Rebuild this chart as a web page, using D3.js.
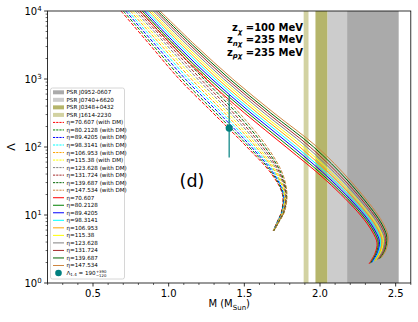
<!DOCTYPE html>
<html><head><meta charset="utf-8">
<script src="https://cdn.jsdelivr.net/npm/d3@7"></script>
<style>body{margin:0;background:#fff}svg{display:block}text{font-family:"DejaVu Sans",sans-serif}</style>
</head><body><svg id="c" width="418" height="322"></svg>
<script>
// ---------------- data ----------------
const etas = ["70.607","80.2128","89.4205","98.3141","106.953","115.38","123.628","131.724","139.687","147.534"];
// Lambda grid (with DM, dashed) and masses for each eta
const lambdaGridDM = [10000, 3162, 1000, 316.2, 100, 39.81, 19.95, 11.22, 7.943, 5.888];
const massDM = [
  [0.685,0.877,1.069,1.293,1.517,1.681,1.752,1.745,1.717,1.691],
  [0.700,0.895,1.089,1.312,1.532,1.689,1.755,1.747,1.718,1.692],
  [0.716,0.913,1.110,1.332,1.547,1.697,1.759,1.750,1.720,1.692],
  [0.731,0.931,1.130,1.351,1.562,1.705,1.762,1.752,1.721,1.693],
  [0.747,0.949,1.150,1.370,1.577,1.713,1.765,1.754,1.723,1.694],
  [0.762,0.968,1.171,1.390,1.591,1.722,1.769,1.757,1.724,1.694],
  [0.778,0.986,1.191,1.409,1.606,1.730,1.772,1.759,1.726,1.695],
  [0.793,1.004,1.211,1.428,1.621,1.738,1.775,1.761,1.727,1.696],
  [0.809,1.022,1.232,1.448,1.636,1.746,1.779,1.764,1.729,1.696],
  [0.824,1.040,1.252,1.467,1.651,1.754,1.782,1.766,1.730,1.697]
];
// Lambda grid (no DM, solid) and masses, plus turning-point tail [M, Lambda]
const lambdaGridNoDM = [10000, 3162, 1000, 316.2, 100, 31.62, 10];
const massNoDM = [
  [0.811,1.020,1.247,1.501,1.776,2.045,2.267],
  [0.826,1.037,1.267,1.523,1.799,2.062,2.280],
  [0.840,1.054,1.286,1.544,1.822,2.080,2.293],
  [0.855,1.072,1.306,1.566,1.844,2.097,2.306],
  [0.870,1.089,1.325,1.588,1.867,2.115,2.319],
  [0.884,1.106,1.345,1.609,1.890,2.132,2.331],
  [0.899,1.123,1.364,1.631,1.913,2.150,2.344],
  [0.914,1.141,1.384,1.653,1.935,2.167,2.357],
  [0.928,1.158,1.403,1.674,1.958,2.185,2.370],
  [0.943,1.175,1.423,1.696,1.981,2.202,2.383]
];
const tailNoDM = [
  [[2.347,5.62],[2.377,3.89],[2.364,2.75],[2.324,1.91]],
  [[2.356,5.73],[2.385,3.98],[2.372,2.79],[2.333,1.95]],
  [[2.365,5.83],[2.393,4.07],[2.380,2.82],[2.342,2.00]],
  [[2.375,5.93],[2.401,4.17],[2.388,2.86],[2.351,2.04]],
  [[2.384,6.04],[2.409,4.27],[2.396,2.90],[2.360,2.09]],
  [[2.393,6.15],[2.418,4.37],[2.405,2.94],[2.368,2.14]],
  [[2.402,6.27],[2.426,4.47],[2.413,2.97],[2.377,2.19]],
  [[2.412,6.37],[2.434,4.57],[2.421,3.01],[2.386,2.24]],
  [[2.421,6.49],[2.442,4.68],[2.429,3.05],[2.395,2.29]],
  [[2.430,6.61],[2.450,4.79],[2.437,3.09],[2.404,2.34]]
];
const bandNames = ["PSR J0952-0607","PSR J0740+6620","PSR J0348+0432","PSR J1614-2230"];
const bandLo = [2.18, 2.05, 1.97, 1.892];
const bandHi = [2.52, 2.24, 2.05, 1.924];
const pointM = 1.4, pointL = 190, pointLo = 70, pointHi = 580;
const xTicks = [0.5,1.0,1.5,2.0,2.5];
const yTicks = [1,10,100,1000,10000];
const yTickExp = ["0","1","2","3","4"];

// ---------------- styles ----------------
const colors = ["#ff0000","#008000","#0000ff","#00ffff","#ffa500","#ffff00","#808080","#a52a2a","#006400","#cd853f"];
const bandColors = ["#aaaaaa","#cccccc","#b5b56b","#d2d2a2"];
const teal = "#008080";

const svg = d3.select("#c");
const x = d3.scaleLinear().domain([0.2,2.6]).range([47.6,410.8]);
const y = d3.scaleLog().domain([1,1e4]).range([283,11]);
const X0=x.range()[0], X1=x.range()[1], Y0=y.range()[1], Y1=y.range()[0];

svg.append("defs").append("clipPath").attr("id","pc").append("rect")
  .attr("x",X0).attr("y",Y0).attr("width",X1-X0).attr("height",Y1-Y0);
const plot = svg.append("g").attr("clip-path","url(#pc)");

// bands (draw J1614, J0348, J0740, J0952 so J0952 is on top)
[3,2,1,0].forEach(i=>{
  plot.append("rect").attr("x",x(bandLo[i])).attr("width",x(bandHi[i])-x(bandLo[i]))
    .attr("y",Y0).attr("height",Y1-Y0).attr("fill",bandColors[i]);
});

const line = d3.line().x(d=>x(d[0])).y(d=>y(d[1])).curve(d3.curveCatmullRom.alpha(0.5));

// with DM (dashed)
massDM.forEach((row,i)=>{
  const pts = row.map((m,j)=>[m, lambdaGridDM[j]]);
  plot.append("path").attr("d",line(pts)).attr("fill","none")
    .attr("stroke",colors[i]).attr("stroke-width",1).attr("stroke-dasharray","3.7,1.6");
});
// without DM (solid)
massNoDM.forEach((row,i)=>{
  const pts = row.map((m,j)=>[m, lambdaGridNoDM[j]]).concat(tailNoDM[i]);
  plot.append("path").attr("d",line(pts)).attr("fill","none")
    .attr("stroke",colors[i]).attr("stroke-width",1);
});

// data point with error bar
plot.append("line").attr("x1",x(pointM)).attr("x2",x(pointM))
  .attr("y1",y(pointLo)).attr("y2",y(pointHi)).attr("stroke",teal).attr("stroke-opacity",0.8).attr("stroke-width",1.5);
plot.append("circle").attr("cx",x(pointM)).attr("cy",y(pointL)).attr("r",3.6).attr("fill",teal);

// frame
svg.append("rect").attr("x",X0).attr("y",Y0).attr("width",X1-X0).attr("height",Y1-Y0)
  .attr("fill","none").attr("stroke","#000").attr("stroke-width",0.8);

// x axis ticks
const xMinor = d3.range(2,27).map(v=>v/10).filter(v=>!xTicks.some(t=>Math.abs(t-v)<1e-9));
const xa = svg.append("g");
xMinor.forEach(v=>xa.append("line").attr("x1",x(v)).attr("x2",x(v)).attr("y1",Y1).attr("y2",Y1+2).attr("stroke","#000").attr("stroke-width",0.6));
xTicks.forEach(v=>{
  xa.append("line").attr("x1",x(v)).attr("x2",x(v)).attr("y1",Y1).attr("y2",Y1+3.5).attr("stroke","#000").attr("stroke-width",0.8);
  xa.append("text").attr("x",x(v)).attr("y",Y1+14).attr("text-anchor","middle").attr("font-size",10).attr("fill","#000").text(v.toFixed(1));
});
// y axis ticks
const ya = svg.append("g");
for(let e=0;e<4;e++) for(let k=2;k<=9;k++){
  const v=k*Math.pow(10,e);
  ya.append("line").attr("x1",X0-2).attr("x2",X0).attr("y1",y(v)).attr("y2",y(v)).attr("stroke","#000").attr("stroke-width",0.6);
}
yTicks.forEach((v,i)=>{
  ya.append("line").attr("x1",X0-3.5).attr("x2",X0).attr("y1",y(v)).attr("y2",y(v)).attr("stroke","#000").attr("stroke-width",0.8);
  const t = ya.append("text").attr("x",X0-6).attr("y",y(v)+4).attr("text-anchor","end").attr("font-size",10).attr("fill","#000");
  t.append("tspan").text("10");
  t.append("tspan").attr("dy",-4.5).attr("font-size",7).text(yTickExp[i]);
});

// axis labels
const xl = svg.append("text").attr("x",(X0+X1)/2).attr("y",307).attr("text-anchor","middle").attr("font-size",10);
xl.append("tspan").text("M (M");
xl.append("tspan").attr("dy",2.5).attr("font-size",7).text("Sun");
xl.append("tspan").attr("dy",-2.5).text(")");
svg.append("text").attr("transform",`translate(15,${(Y0+Y1)/2}) rotate(-90)`).attr("text-anchor","middle")
  .attr("font-size",11).text("Λ");

// annotations
const zlab = [["χ","=100 MeV"],["nχ","=235 MeV"],["pχ","=235 MeV"]];
zlab.forEach((z,i)=>{
  const t = svg.append("text").attr("x",303).attr("y",31+i*12.3).attr("text-anchor","end")
    .attr("font-size",10).attr("font-weight","bold");
  t.append("tspan").text("z");
  t.append("tspan").attr("dy",2.5).attr("font-size",7).attr("font-style","italic").text(z[0]);
  t.append("tspan").attr("dy",-2.5).text(" "+z[1]);
});
svg.append("text").attr("x",192).attr("y",187).attr("text-anchor","middle").attr("font-size",17.5).text("(d)");

// legend
const lg = svg.append("g");
lg.append("rect").attr("x",50.5).attr("y",88).attr("width",74).attr("height",191).attr("rx",2)
  .attr("fill","#fff").attr("fill-opacity",0.8).attr("stroke","#cccccc").attr("stroke-width",0.8);
const ly = k=>92.3+k*7.53;
const fs = 5.6;
bandNames.forEach((n,i)=>{
  lg.append("rect").attr("x",53).attr("y",ly(i)-2).attr("width",11).attr("height",4).attr("fill",bandColors[i]);
  lg.append("text").attr("x",66.5).attr("y",ly(i)+2).attr("font-size",fs).text(n);
});
etas.forEach((e,i)=>{
  const k=4+i;
  lg.append("line").attr("x1",53).attr("x2",64).attr("y1",ly(k)).attr("y2",ly(k)).attr("stroke",colors[i]).attr("stroke-width",1).attr("stroke-dasharray","2.2,1");
  lg.append("text").attr("x",66.5).attr("y",ly(k)+2).attr("font-size",fs).text("η="+e+" (with DM)");
});
etas.forEach((e,i)=>{
  const k=14+i;
  lg.append("line").attr("x1",53).attr("x2",64).attr("y1",ly(k)).attr("y2",ly(k)).attr("stroke",colors[i]).attr("stroke-width",1);
  lg.append("text").attr("x",66.5).attr("y",ly(k)+2).attr("font-size",fs).text("η="+e);
});
{
  const k=24;
  lg.append("circle").attr("cx",58.5).attr("cy",ly(k)).attr("r",3.3).attr("fill",teal);
  const t = lg.append("text").attr("x",66.5).attr("y",ly(k)+2).attr("font-size",fs);
  t.append("tspan").text("Λ");
  t.append("tspan").attr("dy",1.2).attr("font-size",4).text("1.4");
  t.append("tspan").attr("dy",-1.2).text(" = 190");
  const w = t.node().getComputedTextLength();
  lg.append("text").attr("x",66.5+w+0.3).attr("y",ly(k)-0.3).attr("font-size",3.8).text("+390");
  lg.append("text").attr("x",66.5+w+0.3).attr("y",ly(k)+3.6).attr("font-size",3.8).text("−120");
}
</script></body></html>
